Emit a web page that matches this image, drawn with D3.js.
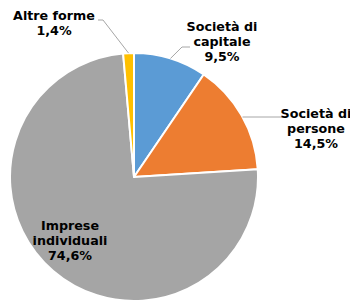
<!DOCTYPE html>
<html>
<head>
<meta charset="utf-8">
<script src="https://cdn.jsdelivr.net/npm/d3@7"></script>
<style>
  body { margin: 0; background: #fff; }
  text { font-family: "DejaVu Sans", Verdana, sans-serif; font-weight: bold; font-size: 12.7px; fill: #000; }
</style>
</head>
<body>
<svg width="350" height="302"></svg>
<script>
const categories = ['Società di capitale', 'Società di persone', 'Imprese individuali', 'Altre forme'];
const values = [9.5, 14.5, 74.6, 1.4];
const labelLines = [
  ['Società di', 'capitale', '9,5%'],
  ['Società di', 'persone', '14,5%'],
  ['Imprese', 'individuali', '74,6%'],
  ['Altre forme', '1,4%']
];
const colors = ['#5b9bd5', '#ed7d31', '#a5a5a5', '#ffc000'];

const svg = d3.select("svg");
const cx = 134, cy = 177, radius = 124;

const g = svg.append("g").attr("transform", "translate(" + cx + "," + cy + ")");

const pie = d3.pie().sort(null).value(d => d)(values);
const arc = d3.arc().innerRadius(0).outerRadius(radius);

g.selectAll("path.slice")
  .data(pie)
  .join("path")
  .attr("class", "slice")
  .attr("d", arc)
  .attr("fill", (d, i) => colors[i])
  .attr("stroke", "#fff")
  .attr("stroke-width", 2)
  .attr("stroke-linejoin", "round");

// label placement (relative to pie centre): text x, first baseline y, leader line end
const labelPos = [
  { x: 88, y: -146, lx: 56, ly: -130 },
  { x: 182, y: -59, lx: 150, ly: -60 },
  { x: -64, y: 53, lx: null },
  { x: -80, y: -157, lx: -36, ly: -157 }
];

const lineH = 15;

pie.forEach((d, i) => {
  const p = labelPos[i];
  if (p.lx !== null) {
    const a = (d.startAngle + d.endAngle) / 2;
    let ax = Math.sin(a) * radius, ay = -Math.cos(a) * radius;
    let pts;
    if (i === 1) {
      // horizontal leader meeting the arc
      ay = p.ly;
      ax = Math.sqrt(radius * radius - ay * ay);
      pts = [[ax, ay], [p.lx, p.ly]];
    } else if (i === 0) {
      pts = [[ax, ay], [p.lx - 8, p.ly], [p.lx, p.ly]];
    } else {
      pts = [[ax, ay], [p.lx + 5, p.ly], [p.lx, p.ly]];
    }
    g.append("path")
      .attr("d", d3.line()(pts))
      .attr("fill", "none")
      .attr("stroke", "#a6a6a6")
      .attr("stroke-width", 1);
  }
  const t = g.append("text")
    .attr("text-anchor", "middle")
    .attr("x", p.x)
    .attr("y", p.y);
  labelLines[i].forEach((s, k) => {
    t.append("tspan").attr("x", p.x).attr("y", p.y + k * lineH).text(s);
  });
});
</script>
</body>
</html>
